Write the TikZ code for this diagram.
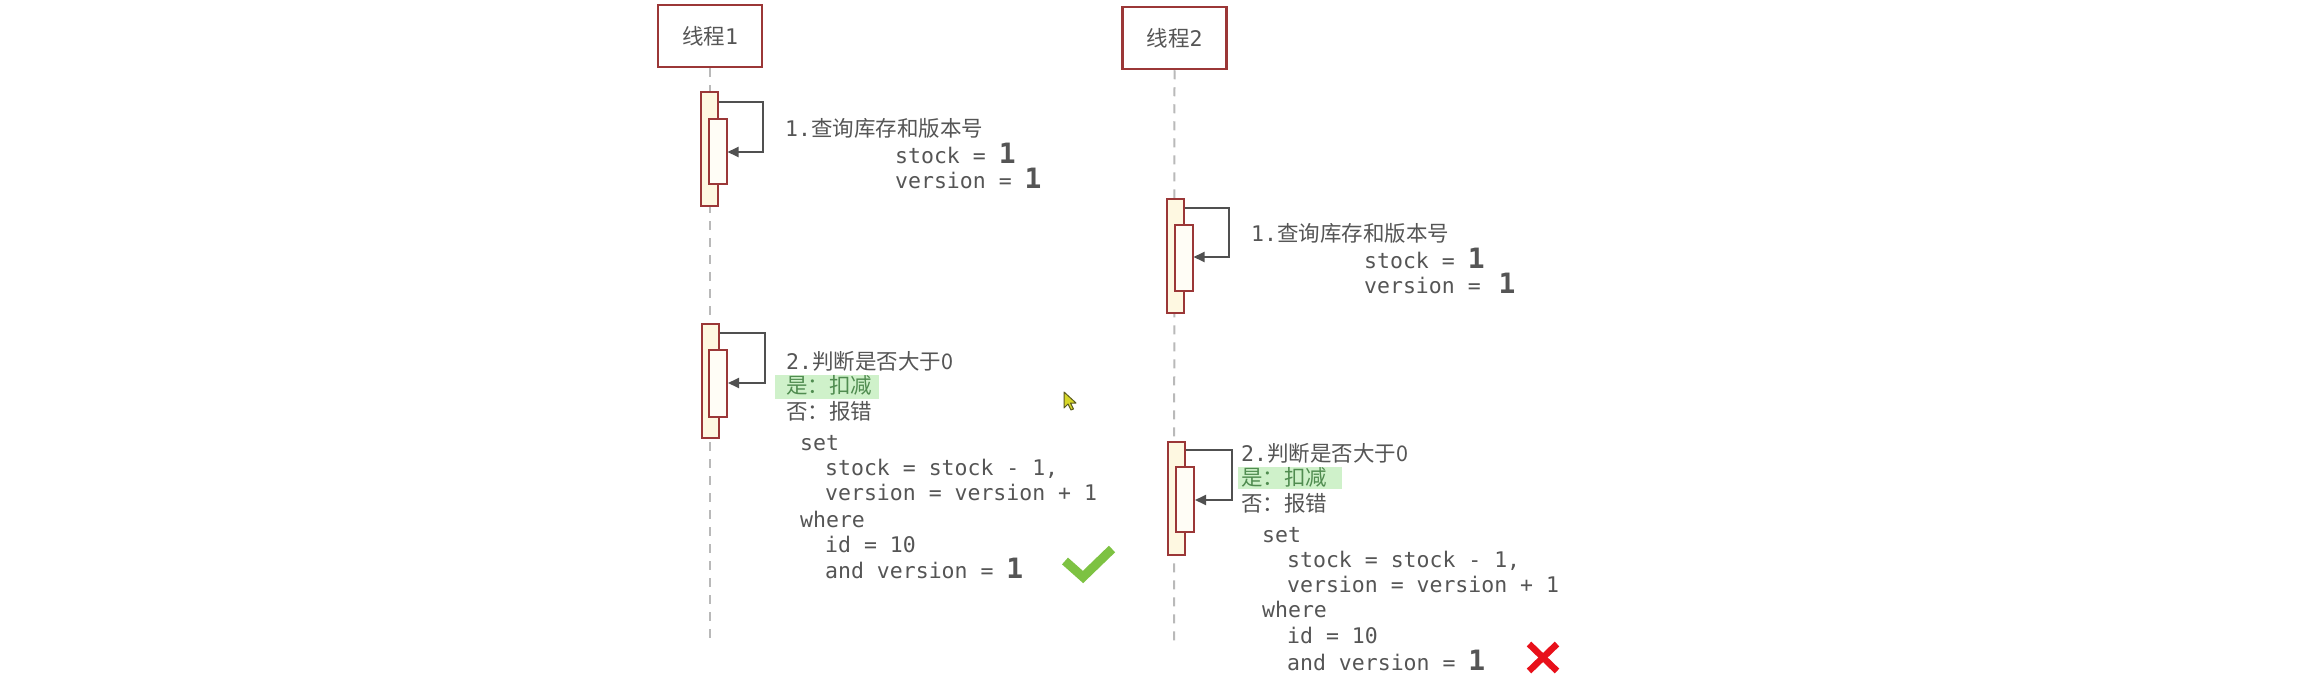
\documentclass[tikz,border=0pt]{standalone}
\usepackage{fontspec}
\setmonofont{DejaVu Sans Mono}
\newfontfamily\cjk{Noto Sans CJK SC}
\usetikzlibrary{arrows.meta}
\definecolor{boxred}{RGB}{155,55,55}
\definecolor{actfill}{RGB}{254,248,225}
\definecolor{innerfill}{RGB}{255,253,246}
\definecolor{txt}{RGB}{85,85,85}
\definecolor{arrowgray}{RGB}{80,80,80}
\definecolor{life}{RGB}{185,185,185}
\definecolor{hl}{RGB}{207,241,202}
\definecolor{hltxt}{RGB}{80,140,80}
\definecolor{okgreen}{RGB}{125,194,66}
\definecolor{badred}{RGB}{232,16,26}
\definecolor{cursorfill}{RGB}{215,215,40}
\definecolor{cursorline}{RGB}{90,90,30}
\newcommand{\C}[1]{{\cjk #1}}
\newcommand{\B}{{\fontsize{28}{28}\selectfont\bfseries 1}}
\begin{document}
\begin{tikzpicture}[x=1pt,y=-1pt,
  thread/.style={draw=boxred,line width=2.5pt,fill=white,minimum width=104pt,minimum height=62pt,inner sep=0pt,text=txt,font=\ttfamily\fontsize{21.5}{25}\selectfont},
  lifeline/.style={draw=life,line width=2pt,dash pattern=on 9pt off 8pt},
  actout/.style={draw=boxred,line width=2pt,fill=actfill,inner sep=0pt,minimum width=17pt},
  actin/.style={draw=boxred,line width=2pt,fill=innerfill,inner sep=0pt,minimum width=18pt},
  msg/.style={draw=arrowgray,line width=2pt,-{Triangle[length=11pt,width=10pt]}},
  code/.style={anchor=base west,inner sep=0pt,text=txt,font=\ttfamily\fontsize{21.5}{25}\selectfont},
  okcode/.style={code,text=hltxt},
  hlbox/.style={fill=hl},
  okmark/.style={draw=okgreen,line width=9pt},
  badmark/.style={draw=badred,line width=6.5pt},
]
\useasboundingbox (0,0) rectangle (2307,685);
\fill[white] (0,0) rectangle (2307,685);

% ---- thread 1 ----
\node[thread] (t1) at (710,36) {\C{线程}1};
\coordinate (e1) at (710,645);
\draw[lifeline] (t1.south) -- (e1);

\node[actout,minimum height=114pt] (a1o) at (709.5,149) {};
\node[actin,minimum height=65pt] (a1i) at (717.5,151.5) {};
\draw[msg] (a1o.east |- 0,102) -- (763,102) -- (763,152) -- (a1i.east |- 0,152);
\node[code] (l11) at (785,136) {1.\C{查询库存和版本号}};
\node[code] (l12) at (895,163) {stock = \B};
\node[code] (l13) at (895,188) {version = \B};

\node[actout,minimum height=114pt] (b1o) at (710,381) {};
\node[actin,minimum height=67pt] (b1i) at (718,383.5) {};
\draw[msg] (b1o.east |- 0,333) -- (765,333) -- (765,383) -- (b1i.east |- 0,383);
\fill[hlbox] (775,375) rectangle (879,399);
\node[code] (m11) at (786,369) {2.\C{判断是否大于0}};
\node[okcode] (m12) at (786,393) {\C{是：扣减}};
\node[code] (m13) at (786,419) {\C{否：报错}};
\node[code] (m14) at (800,450) {set};
\node[code] (m15) at (825,475) {stock = stock - 1,};
\node[code] (m16) at (825,500) {version = version + 1};
\node[code] (m17) at (800,527) {where};
\node[code] (m18) at (825,552) {id = 10};
\node[code] (m19) at (825,578) {and version = \B};
\draw[okmark] (1065,561) -- (1083,577) -- (1112,549);

% ---- thread 2 ----
\node[thread] (t2) at (1174.5,38) {\C{线程}2};
\coordinate (e2) at (1174,648);
\draw[lifeline] (t2.south) -- (e2);

\node[actout,minimum height=114pt] (a2o) at (1175,256) {};
\node[actin,minimum height=66pt] (a2i) at (1183.5,258) {};
\draw[msg] (a2o.east |- 0,208) -- (1229,208) -- (1229,257) -- (a2i.east |- 0,257);
\node[code] (l21) at (1251,241) {1.\C{查询库存和版本号}};
\node[code] (l22) at (1364,268) {stock = \B};
\node[code] (l23) at (1364,293) {version = \hspace*{5pt}\B};

\node[actout,minimum height=113pt] (b2o) at (1176.5,498.5) {};
\node[actin,minimum height=65pt] (b2i) at (1185,499.5) {};
\draw[msg] (b2o.east |- 0,450) -- (1232,450) -- (1232,500) -- (b2i.east |- 0,500);
\fill[hlbox] (1238,467) rectangle (1342,489);
\node[code] (m21) at (1241,461) {2.\C{判断是否大于0}};
\node[okcode] (m22) at (1241,485) {\C{是：扣减}};
\node[code] (m23) at (1241,511) {\C{否：报错}};
\node[code] (m24) at (1262,542) {set};
\node[code] (m25) at (1287,567) {stock = stock - 1,};
\node[code] (m26) at (1287,592) {version = version + 1};
\node[code] (m27) at (1262,617) {where};
\node[code] (m28) at (1287,643) {id = 10};
\node[code] (m29) at (1287,670) {and version = \B};
\draw[badmark] (1529,644) -- (1557,671);
\draw[badmark] (1557,644) -- (1529,671);

% ---- mouse cursor ----
\filldraw[fill=cursorfill,draw=cursorline,line width=1pt,line join=round]
  (1064,392) -- (1064,408) -- (1068,404) -- (1071,410) -- (1073.5,409) -- (1070.5,403) -- (1076,403) -- cycle;
\end{tikzpicture}
\end{document}
